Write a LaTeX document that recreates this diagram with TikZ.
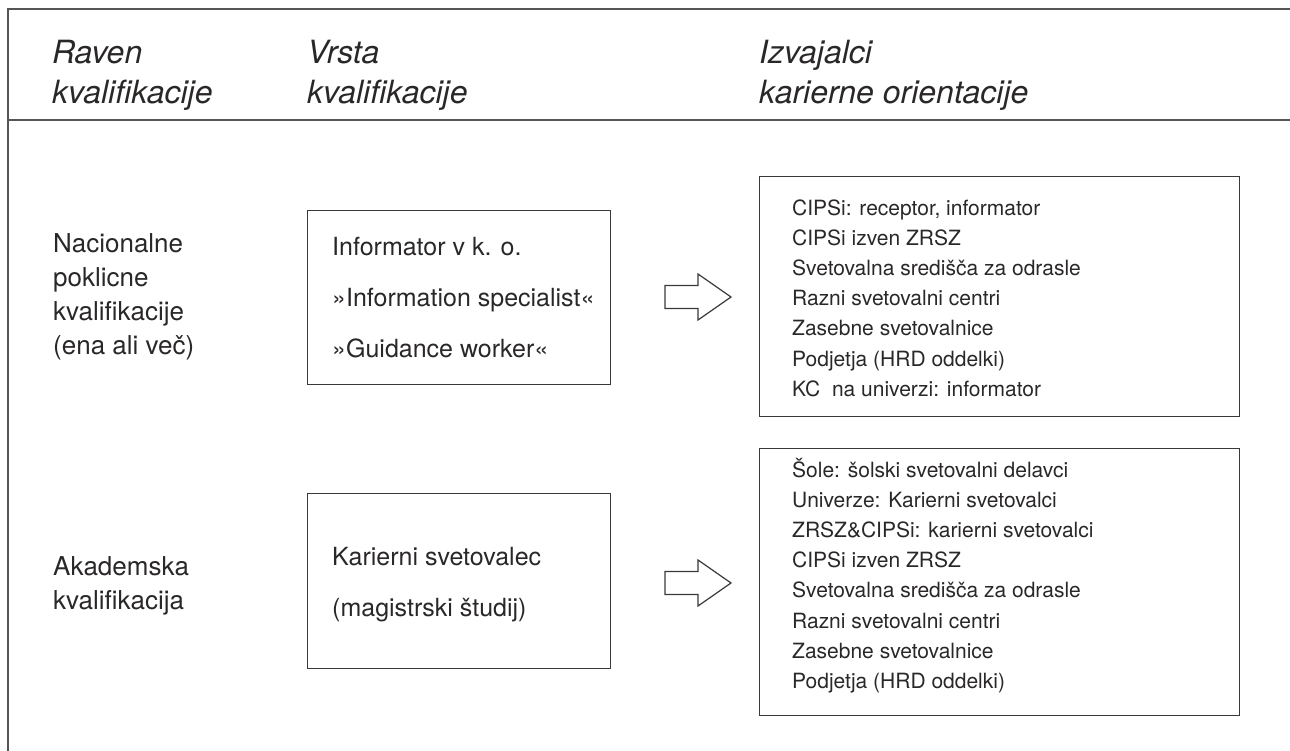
\documentclass[tikz,border=0pt]{standalone}
\usepackage{fontspec}
\setmainfont{TeX Gyre Heros}
\definecolor{ink}{HTML}{2A2727}
\definecolor{rulec}{HTML}{555555}
\definecolor{boxc}{HTML}{3A3A3A}
\newcommand{\stack}[1]{\vtop{#1}}
\begin{document}
\begin{tikzpicture}[x=1bp,y=-1bp,
  hdr/.style={anchor=base west, inner sep=0pt, text=ink, font=\fontsize{32bp}{40bp}\selectfont\itshape},
  lbl/.style={anchor=base west, inner sep=0pt, text=ink, font=\fontsize{26bp}{34bp}\selectfont},
  boxtxt/.style={anchor=base west, inner sep=0pt, text=ink, font=\fontsize{25bp}{51bp}\selectfont},
  listtxt/.style={anchor=base west, inner sep=0pt, text=ink, font=\fontsize{21bp}{30.2bp}\selectfont},
  framel/.style={draw=rulec, line width=1.6bp},
  boxsty/.style={draw=boxc, line width=1.3bp, anchor=north west, inner sep=0pt},
  blockarrow/.style={draw=boxc, line width=1.2bp, line join=miter, fill=white}]
\useasboundingbox (0,0) rectangle (1290,751);
% frame
\coordinate (ftl) at (8,9);
\coordinate (ftr) at (1290,9);
\coordinate (fbl) at (8,751);
\coordinate (sepl) at (8,120);
\coordinate (sepr) at (1290,120);
\draw[framel] (fbl) -- (ftl) -- (ftr);
\draw[framel] (sepl) -- (sepr);
% headers
\node[hdr] (h1) at (52,64) {\stack{\hbox{Raven}\hbox{kvalifikacije}}};
\node[hdr] (h2) at (307,64) {\stack{\hbox{Vrsta}\hbox{kvalifikacije}}};
\node[hdr] (h3) at (759,64) {\stack{\hbox{Izvajalci}\hbox{karierne orientacije}}};
% row labels
\node[lbl] (r1) at (53,252) {\stack{\hbox{Nacionalne}\hbox{poklicne}\hbox{kvalifikacije}\hbox{(ena ali več)}}};
\node[lbl] (r2) at (53,575) {\stack{\hbox{Akademska}\hbox{kvalifikacija}}};
% middle boxes
\node[boxsty, minimum width=303bp, minimum height=174bp] (b1) at (307,210) {};
\node[boxsty, minimum width=303bp, minimum height=175bp] (b2) at (307,493) {};
\node[boxtxt] (t1) at (332,255) {\stack{\hbox{Informator v k. o.}\hbox{»Information specialist«}\hbox{»Guidance worker«}}};
\node[boxtxt] (t2) at (332,565) {\stack{\hbox{Karierni svetovalec}\hbox{(magistrski študij)}}};
% right boxes
\node[boxsty, minimum width=480bp, minimum height=240bp] (b3) at (759,176) {};
\node[boxsty, minimum width=480bp, minimum height=267bp] (b4) at (759,448) {};
\node[listtxt] (t3) at (792,215) {\stack{\hbox{CIPSi: receptor, informator}\hbox{CIPSi izven ZRSZ}\hbox{Svetovalna središča za odrasle}\hbox{Razni svetovalni centri}\hbox{Zasebne svetovalnice}\hbox{Podjetja (HRD oddelki)}\hbox{KC\ \ na univerzi: informator}}};
\node[listtxt] (t4) at (792,477) {\stack{\hbox{Šole: šolski svetovalni delavci}\hbox{Univerze: Karierni svetovalci}\hbox{ZRSZ\&CIPSi: karierni svetovalci}\hbox{CIPSi izven ZRSZ}\hbox{Svetovalna središča za odrasle}\hbox{Razni svetovalni centri}\hbox{Zasebne svetovalnice}\hbox{Podjetja (HRD oddelki)}}};
% block arrows
\coordinate (a1) at (698,297);
\coordinate (a2) at (698,583);
\foreach \a in {a1,a2}{
  \draw[blockarrow] ([shift={(-33,-11.5)}]\a) -- ([shift={(0,-11.5)}]\a) -- ([shift={(0,-23)}]\a)
    -- ([shift={(33,0)}]\a) -- ([shift={(0,23)}]\a) -- ([shift={(0,11.5)}]\a)
    -- ([shift={(-33,11.5)}]\a) -- cycle;
}
\end{tikzpicture}
\end{document}
